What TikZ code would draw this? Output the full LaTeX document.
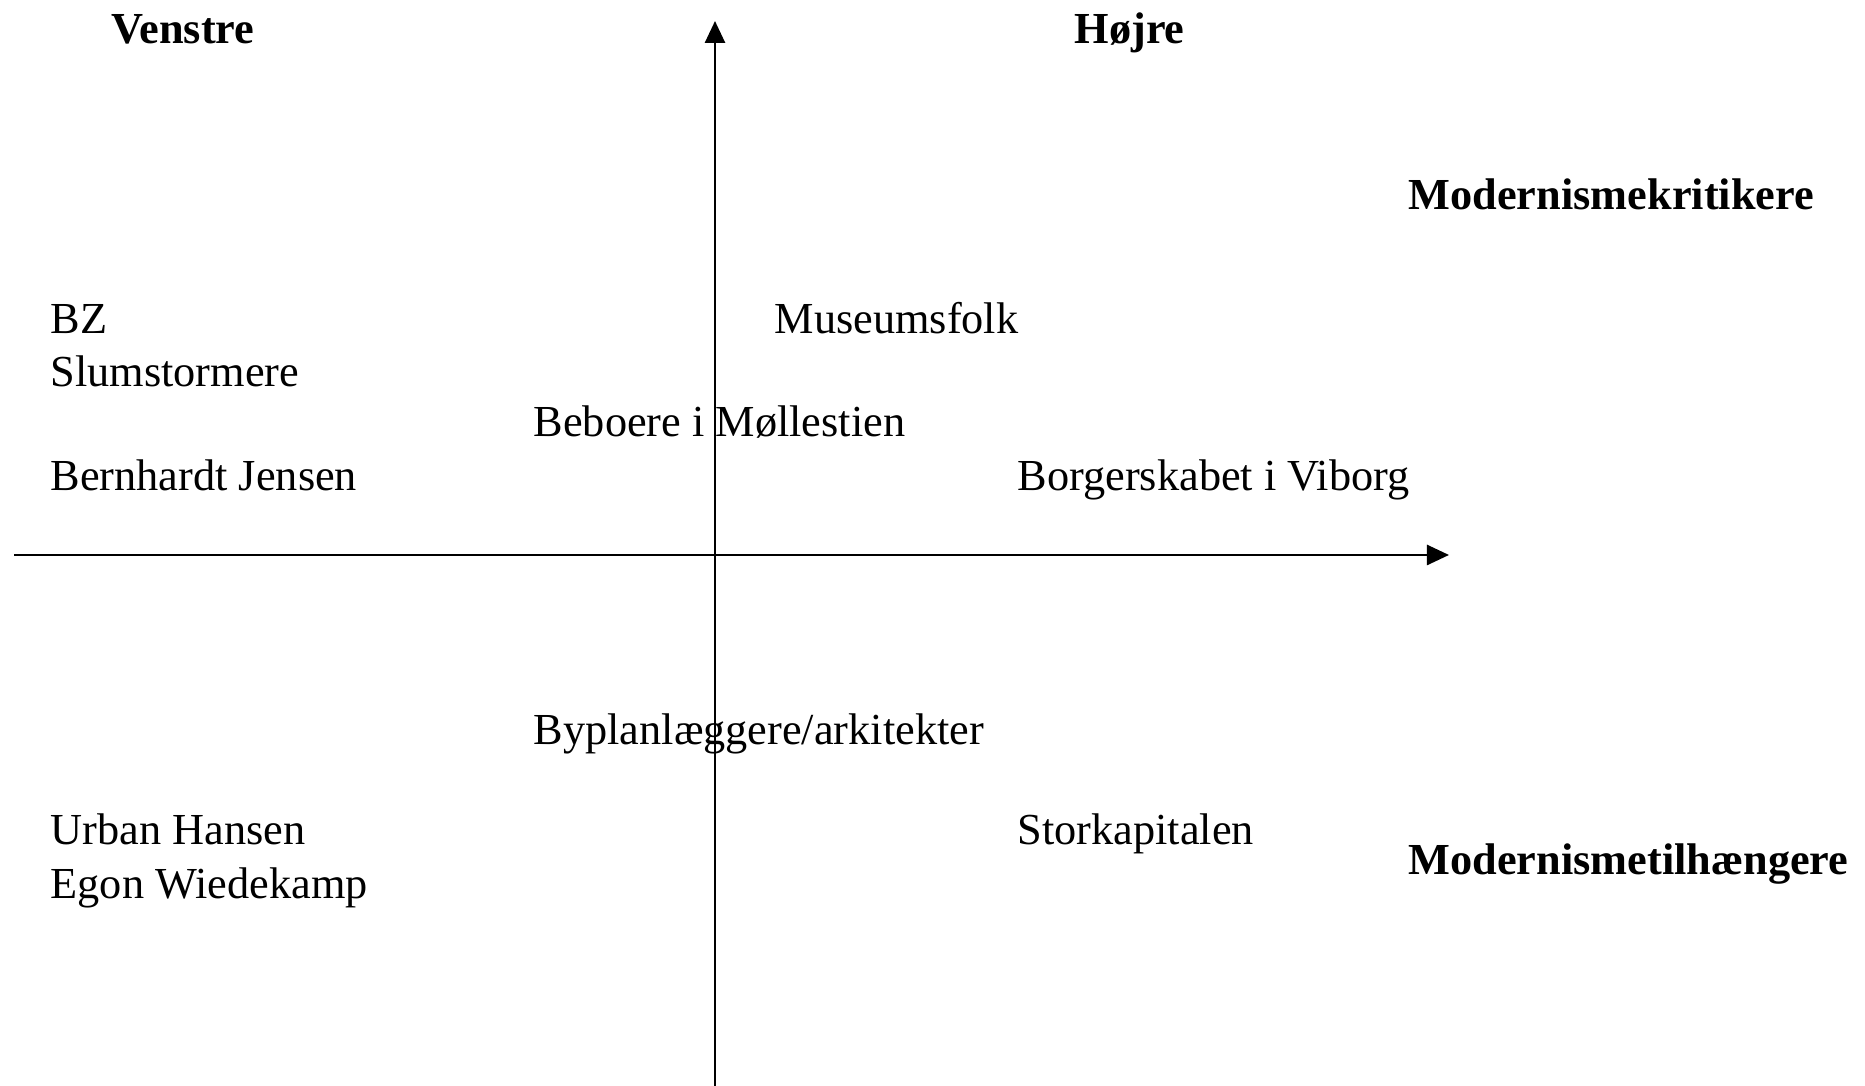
\documentclass[tikz,border=0pt]{standalone}
\usepackage{fontspec}
\setmainfont{Liberation Serif}
\usepackage{tikz}
\usetikzlibrary{arrows.meta}
\tikzset{
  lbl/.style={anchor=base west,inner sep=0pt,font=\fontsize{12.6}{15}\selectfont},
  head/.style={lbl,font=\fontsize{12.6}{15}\selectfont\bfseries},
  axis/.style={line width=0.75pt,-{Triangle[length=0.22cm,width=0.2cm]}}
}

\begin{document}
\begin{tikzpicture}[x=0.01cm,y=-0.01cm]
\useasboundingbox (0,0) rectangle (1865,1086);
\coordinate (xl) at (14,555);
\coordinate (xr) at (1449,555);
\coordinate (yb) at (715,1086);
\coordinate (yt) at (715,21);
\draw[axis] (xl) -- (xr);
\draw[axis] (yb) -- (yt);
\node[head] (venstre) at (111,44) {Venstre};
\node[head] (hojre) at (1074,44) {Højre};
\node[head] (kritik) at (1408,210) {Modernismekritikere};
\node[head] (tilh) at (1408,875) {Modernismetilhængere};
\node[lbl] (bz) at (50,334) {BZ};
\node[lbl] (slum) at (50,387) {Slumstormere};
\node[lbl] (museum) at (774,334) {Museumsfolk};
\node[lbl] (beboere) at (533,437) {Beboere i Møllestien};
\node[lbl] (bernhardt) at (50,491) {Bernhardt Jensen};
\node[lbl] (borger) at (1017,491) {Borgerskabet i Viborg};
\node[lbl] (byplan) at (533,745) {Byplanlæggere/arkitekter};
\node[lbl] (urban) at (50,845) {Urban Hansen};
\node[lbl] (stork) at (1017,845) {Storkapitalen};
\node[lbl] (egon) at (50,899) {Egon Wiedekamp};
\end{tikzpicture}
\end{document}
